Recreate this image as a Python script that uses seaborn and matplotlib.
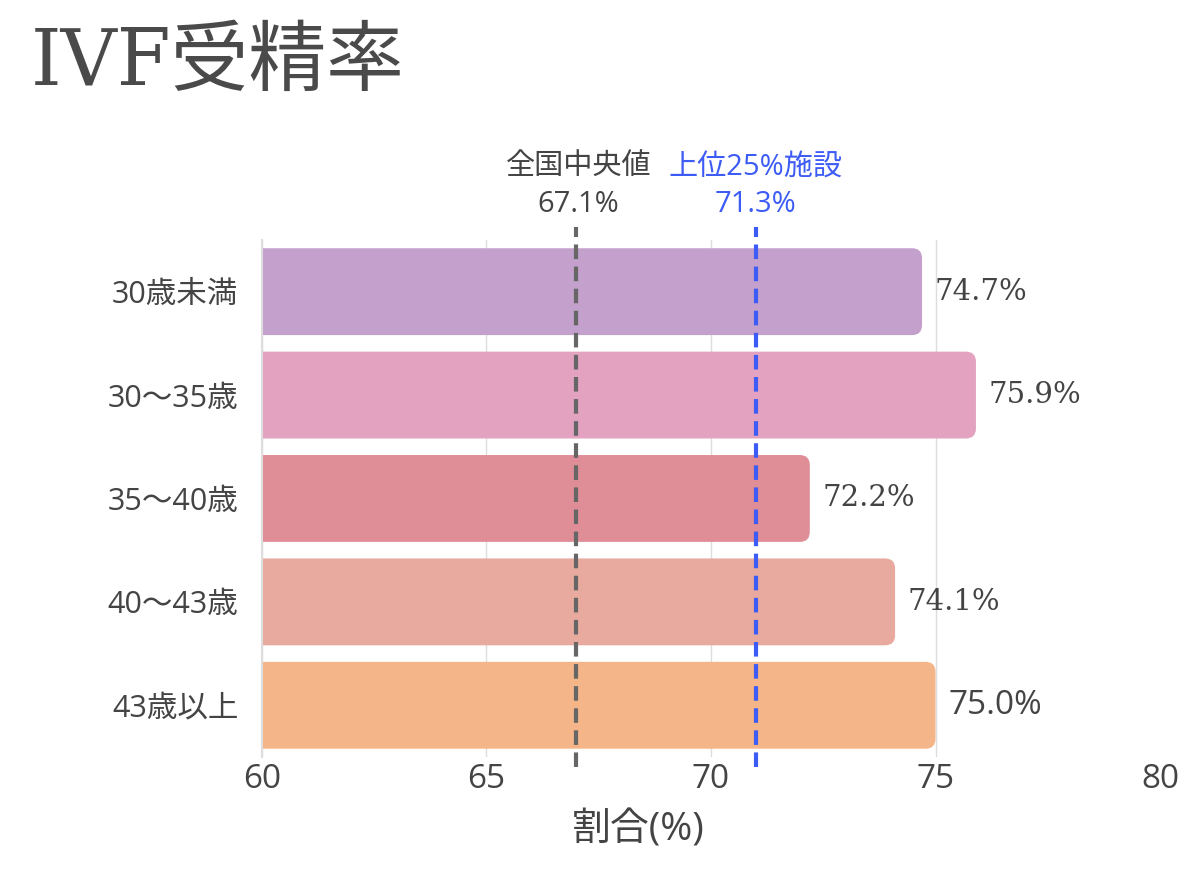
import matplotlib
matplotlib.use("Agg")
import matplotlib.pyplot as plt
import matplotlib.transforms as mtransforms
from matplotlib.patches import FancyBboxPatch
import seaborn as sns
import pandas as pd

# data
age_groups = ["30歳未満", "30～35歳", "35～40歳", "40～43歳", "43歳以上"]
fert_rate = [74.7, 75.9, 72.2, 74.1, 75.0]
bar_colors = ["#C4A0CC", "#E2A2C0", "#DF8D96", "#E8AA9E", "#F4B588"]

median_label = "67.1%"
median_pos = 67.0
top25_label = "71.3%"
top25_pos = 71.0

xticks = [60, 65, 70, 75, 80]

sns.set_theme(style="white")
sans = ["Open Sans", "Noto Sans CJK JP", "DejaVu Sans"]
serif = ["DejaVu Serif", "Noto Sans CJK JP"]
plt.rcParams["font.family"] = sans

text_col = "#444444"
blue = "#3D5CF5"

df = pd.DataFrame({"age": age_groups, "rate": fert_rate})

fig = plt.figure(figsize=(12, 8.71), dpi=100)
ax = fig.add_axes([0.2183, 0.1309, 0.7484, 0.5936])

sns.barplot(data=df, y="age", x="rate", hue="age", palette=bar_colors,
            legend=False, width=0.84, ax=ax, zorder=2)

# swap the plain bars for ones with rounded right corners
x_per_px = 20 / 898.0
y_per_px = 5 / 517.0
for p, c in zip(list(ax.patches), bar_colors):
    x0, y0, w, h = p.get_x(), p.get_y(), p.get_width(), p.get_height()
    p.set_visible(False)
    fb = FancyBboxPatch((x0, y0), w, h,
                        boxstyle="round,pad=0,rounding_size=%f" % (10 * x_per_px),
                        mutation_aspect=y_per_px / x_per_px,
                        facecolor=c, edgecolor="none", zorder=2)
    ax.add_patch(fb)

for i, v in enumerate(fert_rate):
    last = i == len(fert_rate) - 1
    ax.text(v + 0.28, i, f"{v:.1f}%", va="center", ha="left",
            fontsize=24 if last else 21, color=text_col,
            family=sans if last else serif, zorder=4)

ax.set_xlim(60, 80)
ax.set_ylim(4.5, -0.5)
ax.set_xticks(xticks)
ax.set_xticklabels([str(t) for t in xticks], fontsize=24, color=text_col)
ax.tick_params(axis="x", length=0, pad=4)
ax.tick_params(axis="y", length=0, pad=17, labelsize=22, labelcolor=text_col)
ax.set_ylabel("")
ax.set_xlabel("割合(%)", fontsize=28, color=text_col)
ax.xaxis.set_label_coords(0.419, -0.105)

ax.grid(axis="x", color="#DDDDDD", linewidth=1, zorder=0)
ax.xaxis.get_gridlines()[-1].set_visible(False)
ax.set_axisbelow(True)
for s in ["top", "right", "bottom"]:
    ax.spines[s].set_visible(False)
ax.spines["left"].set_color("#DDDDDD")
ax.spines["left"].set_linewidth(1.5)

# reference lines
trans = mtransforms.blended_transform_factory(ax.transData, ax.transAxes)
ax.plot([median_pos, median_pos], [-0.02, 1.025], transform=trans,
        color="#666666", linestyle=(0, (3.5, 1.8)), linewidth=3, clip_on=False, zorder=3)
ax.plot([top25_pos, top25_pos], [-0.02, 1.025], transform=trans,
        color=blue, linestyle=(0, (3.5, 1.8)), linewidth=3, clip_on=False, zorder=3)

ax.text(median_pos + 0.05, 1.141, "全国中央値", transform=trans, ha="center", va="center",
        fontsize=21, color=text_col)
ax.text(median_pos + 0.05, 1.068, median_label, transform=trans, ha="center", va="center",
        fontsize=21, color=text_col)
ax.text(top25_pos, 1.141, "上位25%施設", transform=trans, ha="center", va="center",
        fontsize=21, color=blue)
ax.text(top25_pos, 1.068, top25_label, transform=trans, ha="center", va="center",
        fontsize=21, color=blue)

fig.text(0.026, 0.928, "IVF受精率", fontsize=56, color="#4a4a4a", ha="left", va="center",
         family=serif)

fig.savefig("out.png", dpi=100, facecolor="white")
